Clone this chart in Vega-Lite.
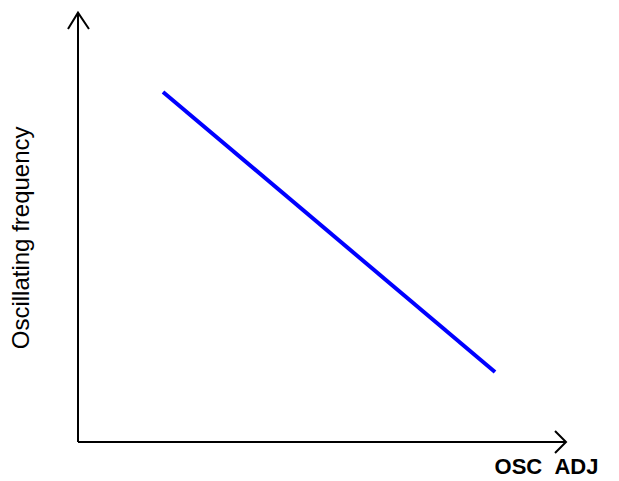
{
  "$schema": "https://vega.github.io/schema/vega-lite/v6.json",
  "width": 488,
  "height": 428,
  "autosize": "none",
  "padding": {"left": 78, "top": 14, "right": 53, "bottom": 39},
  "background": "white",
  "config": {"view": {"stroke": null}},
  "datasets": {
    "curve": [{"x": 1.742, "y": 8.178}, {"x": 8.545, "y": 1.636}],
    "axes": [
      {"x": 0, "y": 0, "x2": 0, "y2": 10.03},
      {"x": 0, "y": 0, "x2": 10, "y2": 0}
    ],
    "arrows": [
      {"g": "up", "o": 0, "x": -0.205, "y": 9.65},
      {"g": "up", "o": 1, "x": 0, "y": 10.03},
      {"g": "up", "o": 2, "x": 0.225, "y": 9.65},
      {"g": "right", "o": 0, "x": 9.775, "y": 0.257},
      {"g": "right", "o": 1, "x": 10, "y": 0},
      {"g": "right", "o": 2, "x": 9.775, "y": -0.257}
    ],
    "ylabel": [{"label": "Oscillating frequency", "x": -1.148, "y": 4.77}],
    "xlabel": [{"label": "OSC\u00a0\u00a0ADJ", "x": 9.6, "y": -0.59}]
  },
  "layer": [
    {
      "data": {"name": "axes"},
      "mark": {"type": "rule", "color": "black", "strokeWidth": 2},
      "encoding": {
        "x": {"field": "x", "type": "quantitative", "scale": {"domain": [0, 10]}, "axis": null},
        "y": {"field": "y", "type": "quantitative", "scale": {"domain": [0, 10]}, "axis": null},
        "x2": {"field": "x2"},
        "y2": {"field": "y2"}
      }
    },
    {
      "data": {"name": "arrows"},
      "mark": {"type": "line", "color": "black", "strokeWidth": 2},
      "encoding": {
        "x": {"field": "x", "type": "quantitative"},
        "y": {"field": "y", "type": "quantitative"},
        "detail": {"field": "g"},
        "order": {"field": "o"}
      }
    },
    {
      "data": {"name": "curve"},
      "mark": {"type": "line", "color": "#0000ff", "strokeWidth": 4},
      "encoding": {
        "x": {"field": "x", "type": "quantitative"},
        "y": {"field": "y", "type": "quantitative"}
      }
    },
    {
      "data": {"name": "ylabel"},
      "mark": {"type": "text", "font": "Liberation Sans", "fontSize": 24, "color": "black", "align": "center", "baseline": "middle", "angle": 270},
      "encoding": {
        "x": {"field": "x", "type": "quantitative"},
        "y": {"field": "y", "type": "quantitative"},
        "text": {"field": "label"}
      }
    },
    {
      "data": {"name": "xlabel"},
      "mark": {"type": "text", "font": "Liberation Sans", "fontSize": 22, "fontWeight": "bold", "color": "black", "align": "center", "baseline": "middle"},
      "encoding": {
        "x": {"field": "x", "type": "quantitative"},
        "y": {"field": "y", "type": "quantitative"},
        "text": {"field": "label"}
      }
    }
  ]
}
